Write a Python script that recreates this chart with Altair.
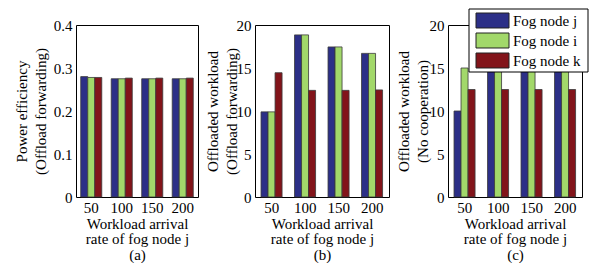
import altair as alt
import pandas as pd

rates = ["50", "100", "150", "200"]
nodes = ["Fog node j", "Fog node i", "Fog node k"]
colors = ["#2c2f87", "#a2d86a", "#82141a"]

# (a) Power efficiency (Offload forwarding)
a_j = [0.280, 0.275, 0.275, 0.275]
a_i = [0.278, 0.275, 0.275, 0.275]
a_k = [0.278, 0.2765, 0.2765, 0.2765]
# (b) Offloaded workload (Offload forwarding)
b_j = [9.9, 18.85, 17.45, 16.7]
b_i = [9.9, 18.85, 17.45, 16.7]
b_k = [14.45, 12.4, 12.4, 12.45]
# (c) Offloaded workload (No cooperation)
c_j = [10, 15, 15, 15]
c_i = [15, 15, 15, 15]
c_k = [12.5, 12.5, 12.5, 12.5]

yticks_a = [0, 0.1, 0.2, 0.3, 0.4]
yticks_bc = [0, 5, 10, 15, 20]

FONT = "Liberation Serif"
color_scale = alt.Scale(domain=nodes, range=colors)


def frame(j, i, k):
    rows = []
    for series, node in zip([j, i, k], nodes):
        for r, v in zip(rates, series):
            rows.append({"rate": r, "node": node, "value": v})
    return pd.DataFrame(rows)


def bars(df, ytitle, xtitle, ydomain, yticks, pad_in, title_pad):
    return alt.Chart(df).mark_bar(stroke="#3a3a3a", strokeWidth=0.8).encode(
        x=alt.X("rate:N", sort=rates,
                scale=alt.Scale(paddingInner=pad_in, paddingOuter=pad_in / 2),
                axis=alt.Axis(title=xtitle, labelAngle=0, ticks=False, domain=False,
                              labelPadding=3, titlePadding=1, titleLineHeight=15.5)),
        xOffset=alt.XOffset("node:N", sort=nodes, scale=alt.Scale(paddingInner=0, paddingOuter=0)),
        y=alt.Y("value:Q", scale=alt.Scale(domain=ydomain, nice=False, zero=True),
                axis=alt.Axis(title=ytitle, values=yticks, format="~g", ticks=False,
                              domain=False, grid=False, labelPadding=4,
                              titleLineHeight=19, titlePadding=title_pad)),
        color=alt.Color("node:N", sort=nodes, scale=color_scale, legend=None),
    )


legend_df = pd.DataFrame({"node": nodes})
box_df = pd.DataFrame({"node": nodes[:1]})

legend_box = alt.Chart(box_df).mark_rect(
    fill="white", stroke="black", strokeWidth=1
).encode(x=alt.value(21), x2=alt.value(140), y=alt.value(-16), y2=alt.value(47))

row_y = alt.Y("node:N", sort=nodes, axis=None,
              scale=alt.Scale(type="point", domain=nodes, range=[-4.5, 35.5], padding=0))

legend_swatch = alt.Chart(legend_df).mark_point(
    shape="M-1,-0.4545H1V0.4545H-1Z", size=1089, filled=True, opacity=1,
    stroke="#222", strokeWidth=1
).encode(
    x=alt.value(44.5), y=row_y,
    color=alt.Color("node:N", sort=nodes, scale=color_scale, legend=None),
)

legend_text = alt.Chart(legend_df).mark_text(
    align="left", baseline="middle", font=FONT, fontSize=15, color="black"
).encode(x=alt.value(65), y=row_y, text="node:N")

ghost = alt.Chart(box_df).mark_rect(opacity=0).encode(
    x=alt.value(0), x2=alt.value(1), y=alt.value(-16), y2=alt.value(-15))

pa = alt.layer(
    bars(frame(a_j, a_i, a_k), ["Power efficiency", "(Offload forwarding)"],
         ["Workload arrival", "rate of fog node j", "(a)"], [0, 0.4], yticks_a, 0.31, 5),
    ghost,
).properties(width=122, height=172)

pb = alt.layer(
    bars(frame(b_j, b_i, b_k), ["Offloaded workload", "(Offload forwarding)"],
         ["Workload arrival", "rate of fog node j", "(b)"], [0, 20], yticks_bc, 0.36, -3),
    ghost,
).properties(width=134, height=172)

pc = alt.layer(
    bars(frame(c_j, c_i, c_k), ["Offloaded workload", "(No cooperation)"],
         ["Workload arrival", "rate of fog node j", "(c)"], [0, 20], yticks_bc, 0.36, -1),
    legend_box,
    legend_swatch,
    legend_text,
).resolve_scale(y="independent").properties(width=134, height=172)

chart = alt.hconcat(pa, pb, pc, spacing=5).properties(
    padding={"left": 5, "top": 0, "right": 0, "bottom": 0},
    background="white",
).configure_view(
    stroke="black", strokeWidth=1
).configure_axis(
    labelFont=FONT, titleFont=FONT, labelFontSize=15, titleFontSize=15,
    labelColor="black", titleColor="black", titleFontWeight="normal"
)

chart.save("out.html", embed_options={"renderer": "svg", "actions": False})
